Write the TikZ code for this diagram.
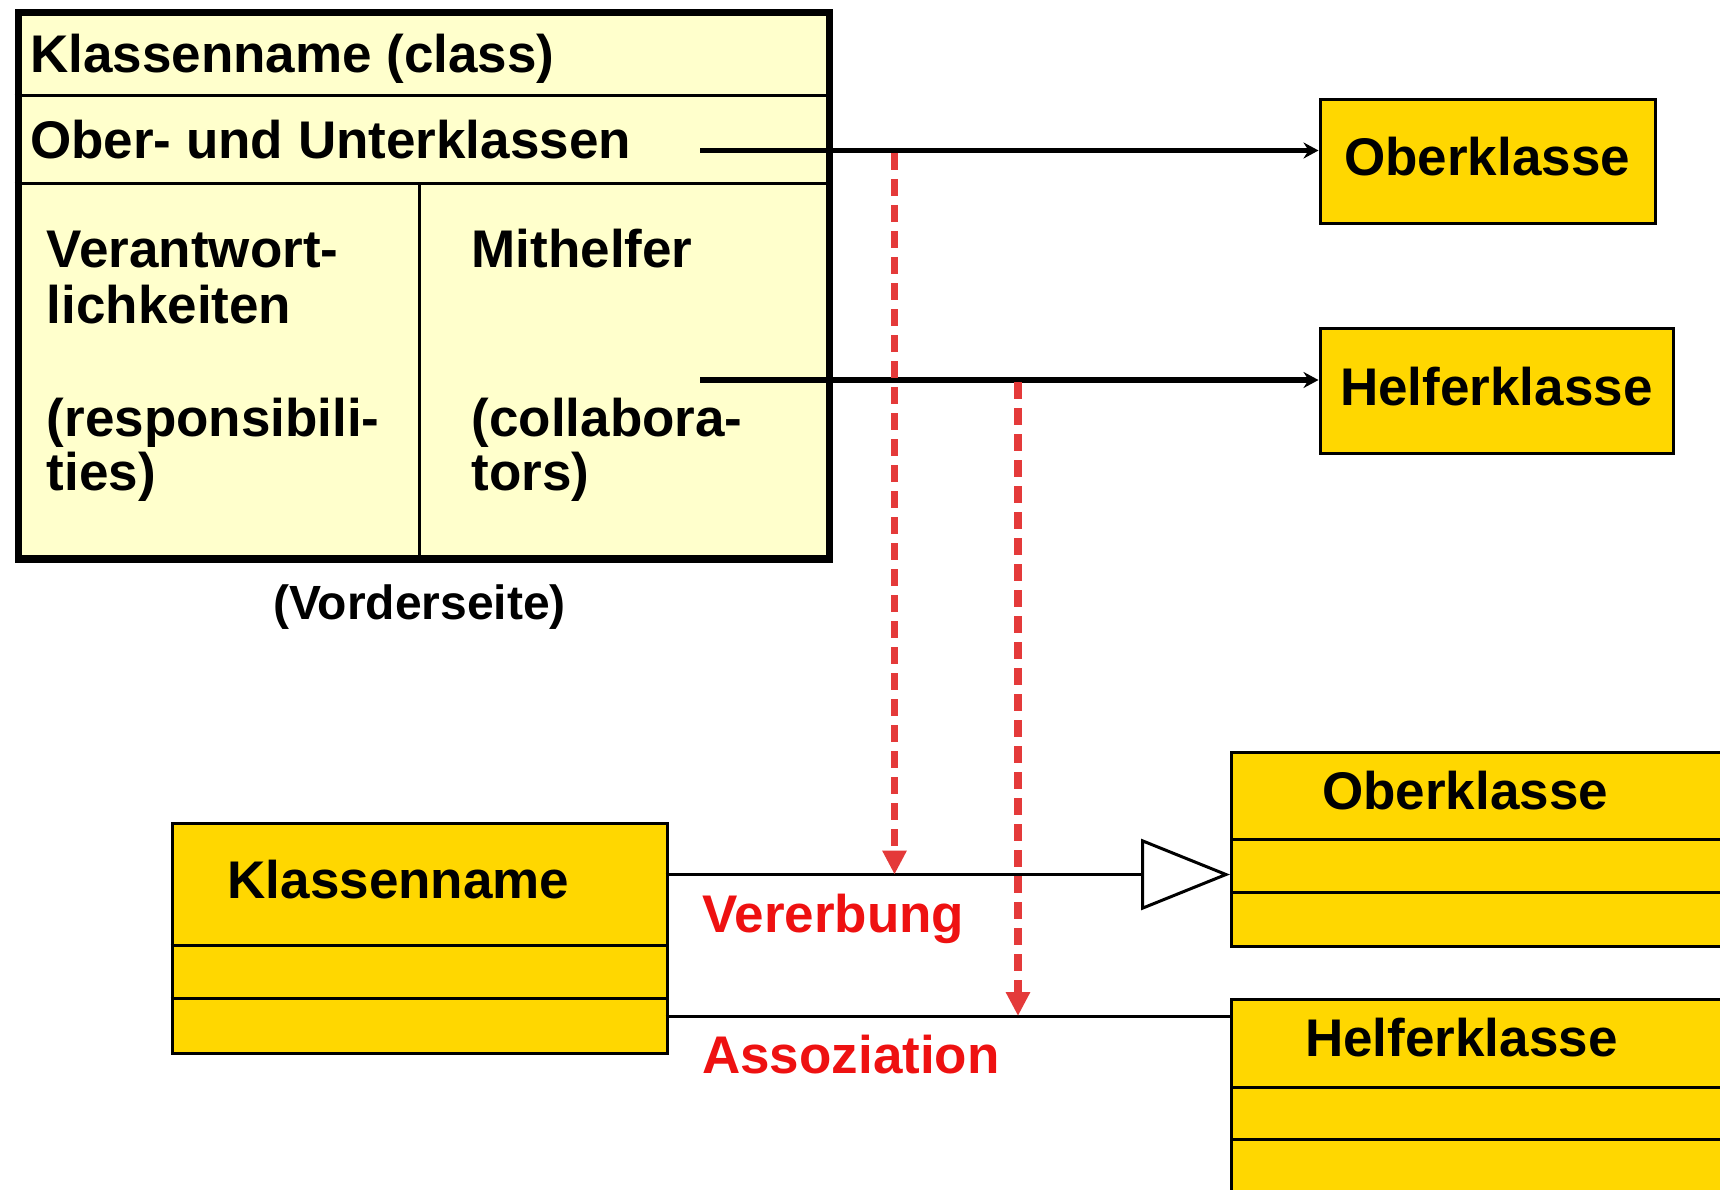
\documentclass[tikz,border=0pt]{standalone}
\usepackage{fontspec}
\setmainfont{Liberation Sans}
\usetikzlibrary{arrows.meta}
\definecolor{crcfill}{RGB}{255,255,204}
\definecolor{gold}{RGB}{255,215,0}
\definecolor{dashred}{RGB}{228,58,58}
\definecolor{lblred}{RGB}{238,17,17}
\begin{document}
\begin{tikzpicture}[x=1pt,y=-1pt,
  txt/.style={font=\fontsize{53}{55}\selectfont\bfseries, inner sep=0pt, anchor=base west},
  boxline/.style={line width=3pt},
  goldbox/.style={draw, boxline, fill=gold, inner sep=0pt, anchor=north west},
  conn/.style={line width=5.5pt, -{Stealth[length=15pt,width=16pt,inset=5pt]}},
  redarrow/.style={dashred, line width=7.5pt, dash pattern=on 17pt off 9pt, -{Triangle[length=24pt,width=23pt]}}
]
\useasboundingbox (0,0) rectangle (1720,1190);
% CRC card
\node[draw, line width=7.5pt, fill=crcfill, minimum width=811pt, minimum height=546pt, anchor=north west, inner sep=0pt] (crc) at (14.5,9) {};
\draw[boxline] (14.5,95.7) -- (825.5,95.7);
\draw[boxline] (14.5,184) -- (825.5,184);
\draw[boxline] (419.5,184) -- (419.5,555);
\node[txt] (t1) at (30,72.7) {Klassenname (class)};
\node[txt] (t2) at (30,159) {Ober- und Unterklassen};
\node[txt] (t3) at (46.6,268) {Verantwort-};
\node[txt] (t4) at (46.6,323.4) {lichkeiten};
\node[txt] (t5) at (46.6,436) {(responsibili-};
\node[txt] (t6) at (46.6,490) {ties)};
\node[txt] (t7) at (471.5,268) {Mithelfer};
\node[txt] (t8) at (471.5,436) {(collabora-};
\node[txt] (t9) at (471.5,490) {tors)};
\node[font=\fontsize{48}{50}\selectfont\bfseries, inner sep=0pt, anchor=base] (vs) at (419.5,619) {(Vorderseite)};
% top-right boxes
\node[goldbox, minimum width=335pt, minimum height=124pt] (ob) at (1318.5,97.6) {};
\node[txt] (obt) at (1344,176) {Oberklasse};
\node[goldbox, minimum width=353pt, minimum height=124.5pt] (hk) at (1318.5,327) {};
\node[txt] (hkt) at (1340,405.6) {Helferklasse};
\coordinate (s1) at (700,150.5);
\coordinate (s2) at (700,380);
\draw[conn] (s1) -- (s1 -| ob.west);
\draw[conn] (s2) -- (s2 -| hk.west);
% bottom UML classes
\node[goldbox, minimum width=495pt, minimum height=229.5pt] (kn) at (170.5,822) {};
\draw[boxline] (170.5,945) -- (665.5,945);
\draw[boxline] (170.5,998) -- (665.5,998);
\node[txt] (knt) at (227.5,898) {Klassenname};
\node[goldbox, minimum width=510pt, minimum height=193.6pt] (ob2) at (1230,751) {};
\draw[boxline] (1230,839) -- (1740,839);
\draw[boxline] (1230,892) -- (1740,892);
\node[txt] (obt2) at (1322,809) {Oberklasse};
\node[goldbox, minimum width=510pt, minimum height=210pt] (hk2) at (1230,998) {};
\draw[boxline] (1230,1087) -- (1740,1087);
\draw[boxline] (1230,1139.5) -- (1740,1139.5);
\node[txt] (hkt2) at (1305,1056) {Helferklasse};
\coordinate (g1) at (665.5,874.5);
\coordinate (a1) at (665.5,1016);
\draw[boxline, -{Triangle[open, fill=white, length=89pt, width=71pt]}] (g1) -- (g1 -| ob2.west);
\draw[boxline] (a1) -- (a1 -| hk2.west);
\node[txt, text=lblred] (vb) at (702,932) {Vererbung};
\node[txt, text=lblred] (as) at (702,1073) {Assoziation};
% red dashed arrows
\coordinate (d1) at (894.5,153);
\coordinate (d2) at (894.5,874.5);
\coordinate (e1) at (1018,382);
\coordinate (e2) at (1018,1016);
\draw[redarrow] (d1) -- (d2);
\draw[redarrow] (e1) -- (e2);
\end{tikzpicture}
\end{document}
